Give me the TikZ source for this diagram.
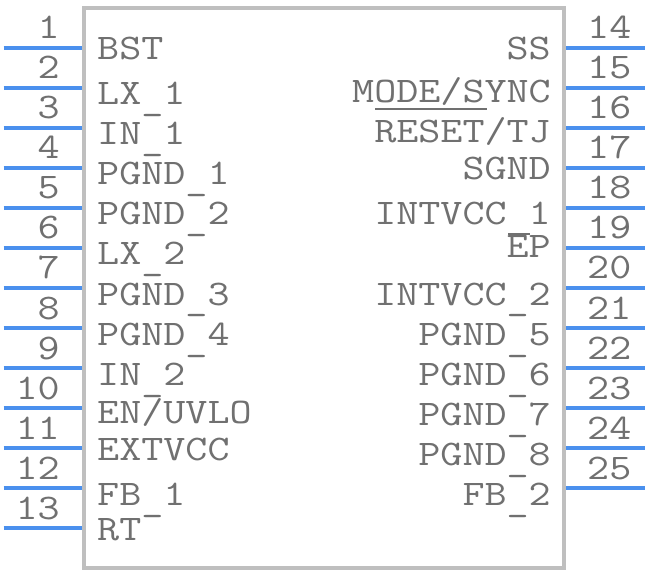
\documentclass[tikz,border=0pt]{standalone}
\definecolor{pinblue}{HTML}{4A90EE}
\definecolor{bodygray}{HTML}{BFBFBF}
\definecolor{txtgray}{HTML}{707070}
\newcommand{\lblfont}{\fontsize{36}{36}\selectfont\ttfamily}
\newcommand{\us}{\raisebox{-5pt}[0pt][0pt]{\_}}
\tikzset{
 x=1pt,y=-1pt,
 chipbody/.style={draw=bodygray,line width=4pt},
 pinline/.style={draw=pinblue,line width=4pt},
 pintext/.style={inner sep=0pt,text=txtgray,font=\lblfont,transform shape,xscale=1.19},
 leftlbl/.style={pintext,anchor=base west},
 rightlbl/.style={pintext,anchor=base east},
 numl/.style={pintext,anchor=base east},
 numr/.style={pintext,anchor=base west},
 barline/.style={draw=txtgray,line width=2pt},
}
\begin{document}
\begin{tikzpicture}
\useasboundingbox (0,0) rectangle (648,572);
\draw[chipbody] (84,8) rectangle (564,568);
% left pins
\foreach \n/\y in {1/48,2/88,3/128,4/168,5/208,6/248,7/288,8/328,9/368,10/408,11/448,12/488,13/528}{
 \coordinate (la\n) at (3.5,\y);
 \coordinate (lb\n) at (82,\y);
 \draw[pinline] (la\n) -- (lb\n);
 \node[numl] (ln\n) at (60,\y-9) {\n};
}
\foreach \n/\y in {14/48,15/88,16/128,17/168,18/208,19/248,20/288,21/328,22/368,23/408,24/448,25/488}{
 \coordinate (ra\n) at (566,\y);
 \coordinate (rb\n) at (645,\y);
 \draw[pinline] (ra\n) -- (rb\n);
 \node[numr] (rn\n) at (587,\y-9) {\n};
}
\foreach \i/\t/\y in {a/BST/60,b/LX\us 1/105,c/IN\us 1/145,d/PGND\us 1/185,e/PGND\us 2/225,f/LX\us 2/265,g/PGND\us 3/305,h/PGND\us 4/345,i/IN\us 2/385,j/EN\slash UVLO/423,k/EXTVCC/460,l/FB\us 1/505,m/RT/540}{
 \node[leftlbl] (tl\i) at (97,\y) {\t};
}
\foreach \i/\t/\y in {a/SS/60,b/MODE\slash SYNC/103,c/RESET\slash TJ/143,d/SGND/180,e/INTVCC\us 1/225,f/EP/258,g/INTVCC\us 2/305,h/PGND\us 5/345,i/PGND\us 6/385,j/PGND\us 7/425,k/PGND\us 8/465,l/FB\us 2/505}{
 \node[rightlbl] (tr\i) at (551,\y) {\t};
}
\draw[barline] (375,109) -- (487,109);
\draw[barline] (508,234) -- (530,234);
\end{tikzpicture}
\end{document}
